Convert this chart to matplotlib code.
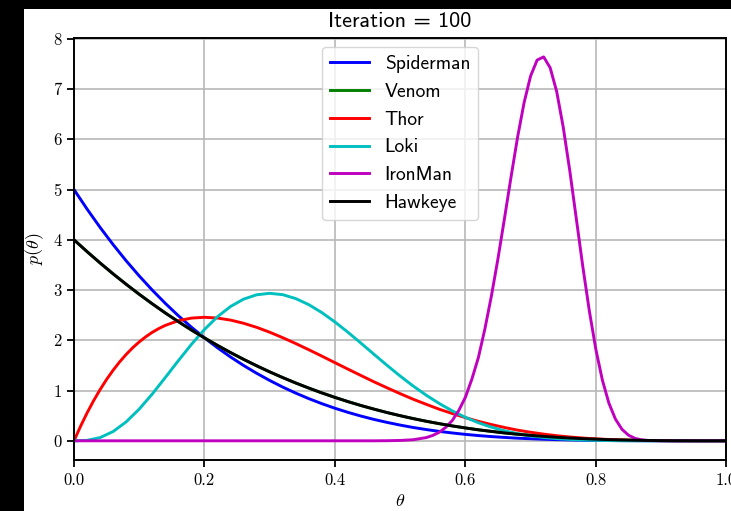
import matplotlib
matplotlib.use("Agg")
import matplotlib.pyplot as plt
from matplotlib.patches import Rectangle

plt.rcParams['mathtext.fontset'] = 'cm'
plt.rcParams['axes.formatter.use_mathtext'] = True

theta = [0.00, 0.02, 0.04, 0.06, 0.08, 0.10, 0.12, 0.14, 0.16, 0.18,
         0.20, 0.22, 0.24, 0.26, 0.28, 0.30, 0.32, 0.34, 0.36, 0.38,
         0.40, 0.42, 0.44, 0.46, 0.48, 0.50, 0.52, 0.54, 0.56, 0.58,
         0.60, 0.62, 0.64, 0.66, 0.68, 0.70, 0.72, 0.74, 0.76, 0.78,
         0.80, 0.82, 0.84, 0.86, 0.88, 0.90, 0.92, 0.94, 0.96, 0.98, 1.00]

spiderman = [5.000, 4.612, 4.247, 3.904, 3.582, 3.281, 2.999, 2.735, 2.489, 2.261,
             2.048, 1.851, 1.668, 1.499, 1.344, 1.201, 1.069, 0.949, 0.839, 0.739,
             0.648, 0.566, 0.492, 0.425, 0.366, 0.313, 0.265, 0.224, 0.187, 0.156,
             0.128, 0.104, 0.084, 0.067, 0.052, 0.041, 0.031, 0.023, 0.017, 0.012,
             0.008, 0.005, 0.003, 0.002, 0.001, 0.001, 0.000, 0.000, 0.000, 0.000, 0.000]

# Venom is not visible in the picture: it lies under the Hawkeye curve
venom = [4.000, 3.765, 3.539, 3.322, 3.115, 2.916, 2.726, 2.544, 2.371, 2.205,
         2.048, 1.898, 1.756, 1.621, 1.493, 1.372, 1.258, 1.150, 1.049, 0.953,
         0.864, 0.780, 0.702, 0.630, 0.562, 0.500, 0.442, 0.389, 0.341, 0.296,
         0.256, 0.219, 0.187, 0.157, 0.131, 0.108, 0.088, 0.070, 0.055, 0.043,
         0.032, 0.023, 0.016, 0.011, 0.007, 0.004, 0.002, 0.001, 0.000, 0.000, 0.000]

thor_theta = [0.00, 0.01, 0.02, 0.03, 0.04, 0.05, 0.06, 0.07, 0.08, 0.09,
              0.10, 0.11, 0.12, 0.13, 0.14, 0.16, 0.18,
              0.20, 0.22, 0.24, 0.26, 0.28, 0.30, 0.32, 0.34, 0.36, 0.38,
              0.40, 0.42, 0.44, 0.46, 0.48, 0.50, 0.52, 0.54, 0.56, 0.58,
              0.60, 0.62, 0.64, 0.66, 0.68, 0.70, 0.72, 0.74, 0.76, 0.78,
              0.80, 0.82, 0.84, 0.86, 0.88, 0.90, 0.92, 0.94, 0.96, 0.98, 1.00]
thor = [0.000, 0.288, 0.553, 0.797, 1.019, 1.222, 1.405, 1.571, 1.719, 1.852,
        1.968, 2.070, 2.159, 2.234, 2.297, 2.390, 2.442,
        2.458, 2.443, 2.402, 2.339, 2.258, 2.161, 2.052, 1.935, 1.812, 1.685,
        1.555, 1.426, 1.299, 1.173, 1.054, 0.938, 0.827, 0.726, 0.628, 0.543,
        0.461, 0.387, 0.323, 0.265, 0.212, 0.170, 0.133, 0.101, 0.076, 0.055,
        0.038, 0.026, 0.017, 0.010, 0.005, 0.003, 0.001, 0.000, 0.000, 0.000, 0.000]

loki = [0.000, 0.009, 0.064, 0.185, 0.377, 0.631, 0.932, 1.260, 1.595, 1.919,
        2.215, 2.470, 2.673, 2.819, 2.906, 2.935, 2.908, 2.830, 2.709, 2.551,
        2.365, 2.160, 1.942, 1.720, 1.501, 1.289, 1.090, 0.907, 0.742, 0.595,
        0.467, 0.359, 0.271, 0.199, 0.143, 0.099, 0.066, 0.043, 0.027, 0.016,
        0.009, 0.005, 0.002, 0.001, 0.000, 0.000, 0.000, 0.000, 0.000, 0.000, 0.000]

ironman_theta = [0.00, 0.10, 0.20, 0.30, 0.40, 0.44, 0.46, 0.48, 0.50, 0.52, 0.54,
                 0.55, 0.56, 0.57, 0.58, 0.59, 0.60, 0.61, 0.62, 0.63, 0.64,
                 0.65, 0.66, 0.67, 0.68, 0.69, 0.70, 0.71, 0.72, 0.73, 0.74,
                 0.75, 0.76, 0.77, 0.78, 0.79, 0.80, 0.81, 0.82, 0.83, 0.84,
                 0.85, 0.86, 0.87, 0.88, 0.90, 0.92, 0.96, 1.00]
ironman = [0.000, 0.000, 0.000, 0.000, 0.000, 0.000, 0.000, 0.002, 0.007, 0.021, 0.064,
           0.107, 0.170, 0.269, 0.405, 0.606, 0.866, 1.229, 1.660, 2.232, 2.890,
           3.628, 4.430, 5.251, 6.040, 6.729, 7.260, 7.577, 7.640, 7.423, 6.950,
           6.242, 5.380, 4.426, 3.470, 2.587, 1.820, 1.209, 0.750, 0.433, 0.230,
           0.112, 0.049, 0.019, 0.007, 0.001, 0.000, 0.000, 0.000]

hawkeye = [4.000, 3.765, 3.539, 3.322, 3.115, 2.916, 2.726, 2.544, 2.371, 2.205,
           2.048, 1.898, 1.756, 1.621, 1.493, 1.372, 1.258, 1.150, 1.049, 0.953,
           0.864, 0.780, 0.702, 0.630, 0.562, 0.500, 0.442, 0.389, 0.341, 0.296,
           0.256, 0.219, 0.187, 0.157, 0.131, 0.108, 0.088, 0.070, 0.055, 0.043,
           0.032, 0.023, 0.016, 0.011, 0.007, 0.004, 0.002, 0.001, 0.000, 0.000, 0.000]

series_names = ["Spiderman", "Venom", "Thor", "Loki", "IronMan", "Hawkeye"]
series_x = [theta, theta, thor_theta, theta, ironman_theta, theta]
series_values = [spiderman, venom, thor, loki, ironman, hawkeye]
series_colors = ["b", "g", "r", "c", "m", "k"]

x_ticks = [0.0, 0.2, 0.4, 0.6, 0.8, 1.0]
x_tick_labels = ["0.0", "0.2", "0.4", "0.6", "0.8", "1.0"]
y_ticks = [0, 1, 2, 3, 4, 5, 6, 7, 8]
y_tick_labels = ["0", "1", "2", "3", "4", "5", "6", "7", "8"]

W, H = 731, 511
fig = plt.figure(figsize=(W / 100, H / 100), dpi=100, facecolor="black")
fig.patches.append(Rectangle((24 / W, 0), 1 - 24 / W, (H - 9) / H,
                             transform=fig.transFigure, facecolor="white",
                             edgecolor="none", zorder=-10))

ax = fig.add_axes([74 / W, 51 / H, (726.3 - 74) / W, (473.3 - 51) / H])
ax.set_facecolor("white")

for name, xs, vals, col in zip(series_names, series_x, series_values, series_colors):
    ax.plot(xs, vals, color=col, lw=2.1, label=name)

ax.set_xlim(0, 1)
ax.set_xticks(x_ticks)
ax.set_xticklabels(x_tick_labels, fontfamily="cmr10", fontsize=12)
ax.set_yticks(y_ticks)
ax.set_yticklabels(y_tick_labels, fontfamily="cmr10", fontsize=12)
ax.tick_params(direction="out", length=5, width=1.3, pad=4)

ax.grid(True, color="#b8b8b8", lw=1.2)
for sp in ax.spines.values():
    sp.set_linewidth(1.4)
    sp.set_color("black")

ax.set_title("Iteration = 100", fontfamily="cmss10", fontsize=16, pad=8)
ax.set_ylabel(r"$p(\theta)$", fontsize=13, labelpad=5)
ax.set_xlabel(r"$\theta$", fontsize=13, labelpad=3)

leg = ax.legend(loc="upper center", prop={"family": "cmss10", "size": 14},
                handlelength=2.0)

fig.savefig("out.png", dpi=100, facecolor=fig.get_facecolor())
